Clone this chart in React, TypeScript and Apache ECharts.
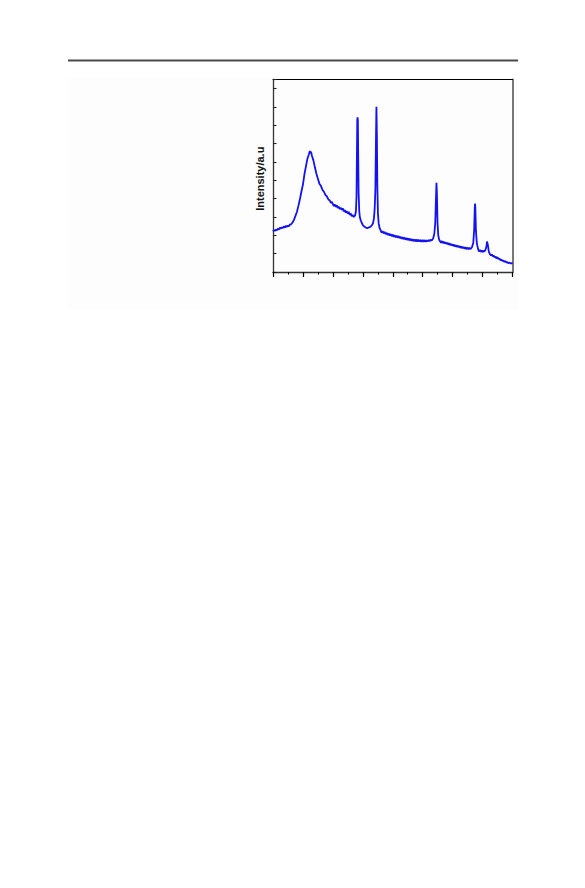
import React, { useEffect, useRef } from "react";
import * as echarts from "echarts";

// 2θ scan, amorphous hump and the first sharp reflections (deg, a.u.)
const scanLow: [number, number][] = [
  [10.0, 17.2], [10.3, 17.9], [10.6, 17.4], [11.0, 18.1], [11.3, 17.7], [11.6, 18.6],
  [12.0, 18.2], [12.3, 19.2], [12.6, 18.7], [13.0, 19.4], [13.3, 18.9], [13.6, 19.8],
  [14.0, 19.3], [14.3, 20.2], [14.6, 19.6], [15.0, 20.3], [15.3, 19.9], [15.6, 20.8],
  [16.0, 21.0], [16.5, 22.0], [17.0, 23.4], [17.5, 25.6], [18.0, 27.9], [18.5, 31.2],
  [19.0, 34.8], [19.5, 38.9], [20.0, 42.7], [20.5, 48.3], [21.0, 52.6], [21.5, 56.8],
  [22.0, 59.2], [22.3, 61.0], [22.5, 59.9], [22.7, 60.6], [23.0, 58.4], [23.5, 55.9],
  [24.0, 52.1], [24.5, 48.6], [25.0, 45.9], [25.5, 43.2], [26.0, 42.0], [26.5, 39.9],
  [27.0, 38.8], [27.5, 37.1], [28.0, 36.2], [28.5, 34.6], [29.0, 34.0], [29.3, 32.6],
  [29.6, 33.3], [30.0, 32.1], [30.3, 30.9], [30.6, 31.8], [31.0, 30.6], [31.3, 31.4],
  [31.6, 30.0], [32.0, 30.6], [32.3, 29.3], [32.6, 30.1], [33.0, 28.9], [33.3, 29.7],
  [33.6, 28.1], [34.0, 28.8], [34.3, 27.4], [34.6, 28.2], [35.0, 26.9], [35.3, 27.8],
  [35.6, 26.2], [36.0, 26.9], [36.3, 25.5], [36.6, 26.1], [37.0, 25.0], [37.4, 25.8],
];

const scanMid: [number, number][] = [
  [37.7, 28.0], [37.9, 36.5], [38.05, 62.0], [38.15, 78.0], [38.25, 79.3], [38.35, 77.5],
  [38.45, 60.0], [38.6, 38.0], [38.8, 28.5], [39.0, 25.0], [39.3, 23.2], [39.6, 22.0],
  [40.0, 20.6], [40.5, 19.8], [41.0, 19.2], [41.5, 18.9], [42.0, 19.3], [42.5, 19.6],
  [43.0, 20.4], [43.4, 21.6], [43.7, 24.0], [43.95, 29.0], [44.2, 40.0], [44.4, 68.0],
  [44.55, 85.1], [44.7, 70.0], [44.85, 42.0], [45.05, 27.0], [45.3, 21.5], [45.6, 19.0],
  [46.0, 17.6], [46.3, 16.4], [46.6, 17.2], [47.0, 16.1], [47.3, 16.9], [47.6, 15.6],
  [48.0, 16.4], [48.3, 15.2], [48.6, 16.0], [49.0, 14.9], [49.3, 15.7], [49.6, 14.6],
  [50.0, 15.4], [50.3, 14.2], [50.6, 15.0], [51.0, 13.9], [51.3, 14.8], [51.6, 13.7],
  [52.0, 14.6], [52.3, 13.4], [52.6, 14.2], [53.0, 13.1], [53.3, 14.0], [53.6, 12.9],
  [54.0, 13.8], [54.3, 12.6], [54.6, 13.5], [55.0, 12.4], [55.3, 13.3], [55.6, 12.2],
  [56.0, 13.1], [56.3, 12.0], [56.6, 12.9], [57.0, 11.8], [57.3, 12.8], [57.6, 11.7],
  [58.0, 12.7], [58.3, 11.6], [58.6, 12.6], [59.0, 11.6], [59.3, 12.5], [59.6, 11.5],
  [60.0, 12.5], [60.3, 11.4], [60.6, 12.4], [61.0, 11.5], [61.3, 12.4], [61.6, 11.6],
  [62.0, 12.5], [62.3, 11.7], [62.6, 12.6], [63.0, 12.2], [63.5, 13.3],
  [63.9, 16.0], [64.2, 22.0], [64.4, 33.0], [64.6, 43.6], [64.75, 38.0], [64.95, 22.0],
  [65.2, 15.0], [65.5, 12.6],
];

const scanHigh: [number, number][] = [
  [65.8, 11.8], [66.1, 11.0], [66.4, 11.9], [66.7, 10.8], [67.0, 11.6], [67.3, 10.5],
  [67.6, 11.3], [68.0, 10.2], [68.3, 11.0], [68.6, 9.9], [69.0, 10.6], [69.3, 9.6],
  [69.6, 10.3], [70.0, 9.3], [70.3, 10.0], [70.6, 9.0], [71.0, 9.7], [71.3, 8.7],
  [71.6, 9.4], [72.0, 8.5], [72.3, 9.2], [72.6, 8.2], [73.0, 8.9], [73.3, 7.9],
  [73.6, 8.7], [74.0, 7.7], [74.3, 8.5], [74.6, 7.5], [75.0, 8.3], [75.3, 7.4],
  [75.6, 8.2], [76.0, 7.5], [76.5, 8.6], [76.9, 11.0],
  [77.2, 18.0], [77.4, 30.0], [77.5, 32.3], [77.6, 29.0], [77.8, 17.0], [78.1, 10.5],
  [78.5, 7.6], [78.8, 6.2], [79.1, 7.0], [79.4, 6.0], [79.7, 6.8], [80.0, 5.8],
  [80.3, 6.6], [80.6, 6.1], [81.0, 7.2],
  [81.3, 9.0], [81.5, 11.6], [81.6, 11.8], [81.8, 9.5], [82.1, 6.0], [82.5, 4.6],
  [82.8, 4.1], [83.1, 4.7], [83.4, 3.5], [83.7, 4.1], [84.0, 3.0], [84.3, 3.5],
  [84.6, 2.5], [85.0, 3.0], [85.3, 2.0], [85.6, 2.4], [86.0, 1.4], [86.3, 1.8],
  [86.6, 1.0], [87.0, 1.3], [87.3, 0.5], [87.6, 0.9], [88.0, 0.1], [88.3, 0.5],
  [88.6, -0.2], [89.0, 0.1], [89.4, -0.4], [89.7, -0.1], [90.0, -0.5],
];

const twoThetaMin = 10;
const twoThetaMax = 90;
const twoThetaStep = 10;
const intensityMin = -5;
const intensityMax = 100;
const intensityStep = 10;
const yTitle = "Intensity/a.u";

export default function App() {
  const ref = useRef<HTMLDivElement>(null);

  useEffect(() => {
    if (!ref.current) return;
    const chart = echarts.init(ref.current, undefined, { renderer: "svg" });
    const scan = [...scanLow, ...scanMid, ...scanHigh];

    chart.setOption({
      animation: false,
      backgroundColor: "#ffffff",
      grid: { left: 273, top: 79.5, right: 72.5, bottom: 616, containLabel: false },
      graphic: [
        {
          type: "rect",
          silent: true,
          z: -10,
          shape: { x: 68, y: 78, width: 450, height: 232 },
          style: { fill: "#fdfdfd" },
        },
        {
          type: "line",
          silent: true,
          shape: { x1: 68, y1: 60.5, x2: 518, y2: 60.5 },
          style: { stroke: "#4a4a4a", lineWidth: 2 },
        },
        {
          type: "text",
          silent: true,
          x: 259.5,
          y: 178.7,
          rotation: Math.PI / 2,
          style: {
            text: yTitle,
            fill: "#111",
            font: "bold 11px 'Liberation Sans', Arial, sans-serif",
            textAlign: "center",
            textVerticalAlign: "middle",
          },
        },
      ],
      xAxis: [
        {
          type: "value",
          min: twoThetaMin,
          max: twoThetaMax,
          interval: twoThetaStep,
          position: "bottom",
          axisLine: { show: true, onZero: false, lineStyle: { color: "#333", width: 1.3 } },
          axisTick: { show: true, inside: false, length: 5, lineStyle: { color: "#000", width: 1.2 } },
          minorTick: { show: true, splitNumber: 2, length: 2.5, lineStyle: { color: "#000", width: 1 } },
          axisLabel: { show: false },
          splitLine: { show: false },
          minorSplitLine: { show: false },
        },
        {
          type: "value",
          min: twoThetaMin,
          max: twoThetaMax,
          position: "top",
          axisLine: { show: true, onZero: false, lineStyle: { color: "#000", width: 1 } },
          axisTick: { show: false },
          axisLabel: { show: false },
          splitLine: { show: false },
        },
      ],
      yAxis: [
        {
          // data axis carrying the scan
          type: "value",
          min: intensityMin,
          max: intensityMax,
          position: "left",
          axisLine: { show: true, onZero: false, lineStyle: { color: "#333", width: 1.3 } },
          axisTick: { show: false },
          axisLabel: { show: false },
          splitLine: { show: false },
        },
        {
          type: "value",
          min: intensityMin,
          max: intensityMax,
          position: "right",
          axisLine: { show: true, onZero: false, lineStyle: { color: "#777", width: 2 } },
          axisTick: { show: false },
          axisLabel: { show: false },
          splitLine: { show: false },
        },
        {
          // same span shifted by half a step so the inner ticks fall at 5, 15, … 95
          type: "value",
          min: 0,
          max: intensityMax - intensityMin,
          interval: intensityStep,
          position: "left",
          offset: 0,
          axisLine: { show: false },
          axisTick: { show: true, inside: true, length: 3.5, lineStyle: { color: "#222", width: 1.1 } },
          axisLabel: { show: false },
          splitLine: { show: false },
        },
      ],
      series: [
        {
          type: "line",
          xAxisIndex: 0,
          yAxisIndex: 0,
          data: scan,
          showSymbol: false,
          symbol: "none",
          clip: true,
          lineStyle: { color: "#1212f2", width: 1.8 },
        },
      ],
    });

    return () => chart.dispose();
  }, []);

  return (
    <div
      ref={ref}
      style={{ position: "fixed", left: 0, top: 0, width: 585, height: 888, background: "#fff" }}
    />
  );
}
